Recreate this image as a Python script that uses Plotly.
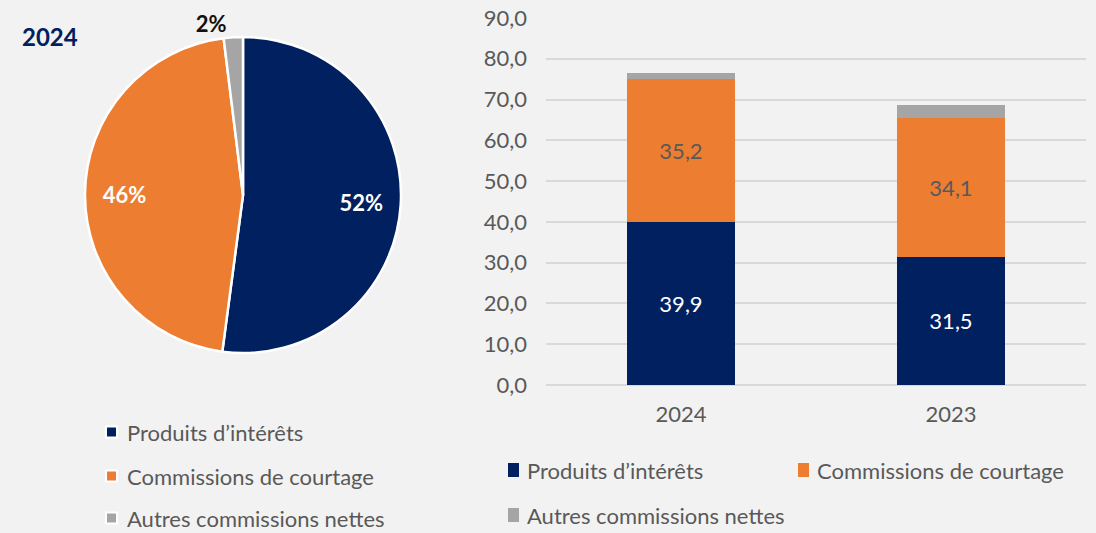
import plotly.graph_objects as go

# ---------------- data ----------------
categories = ["Produits d’intérêts", "Commissions de courtage", "Autres commissions nettes"]
years = ["2024", "2023"]
produits = [39.9, 31.5]
commissions = [35.2, 34.1]
autres = [1.5, 3.0]
pie_year = "2024"
pie_values = [produits[0], commissions[0], autres[0]]
y_ticks = [0, 10, 20, 30, 40, 50, 60, 70, 80, 90]

# ---------------- style ----------------
colors = ["#002060", "#ED7D31", "#A5A5A5"]
FONT = "Lato"
GREY_TXT = "#595959"
BG = "#F2F2F2"
W, H = 1096, 533
FS = 22


def px(x):
    return x / W


def py(y):
    return 1 - y / H


fig = go.Figure()

pie_dom = dict(x=[px(85), px(401)], y=[py(353), py(37)])

# Pie (visual)
fig.add_trace(go.Pie(
    labels=categories, values=pie_values, sort=False, direction="clockwise", rotation=0,
    marker=dict(colors=colors, line=dict(color="white", width=2.5)),
    texttemplate="%{percent:.0%}",
    textposition=["none", "none", "outside"],
    outsidetextfont=dict(color="#111111", size=FS, family=FONT, weight="bold"),
    domain=pie_dom, automargin=False,
    showlegend=False, hoverinfo="skip",
))
# Pie labels for the large slices (transparent ring so labels sit out toward the rim)
fig.add_trace(go.Pie(
    labels=categories, values=pie_values, sort=False, direction="clockwise", rotation=0,
    hole=0.5,
    marker=dict(colors=["rgba(0,0,0,0)"] * 3, line=dict(width=0)),
    texttemplate="%{percent:.0%}",
    textposition=["inside", "inside", "outside"],
    insidetextorientation="horizontal",
    insidetextfont=dict(color="white", size=FS, family=FONT, weight="bold"),
    outsidetextfont=dict(color="rgba(0,0,0,0)", size=FS, family=FONT, weight="bold"),
    domain=pie_dom, automargin=False,
    showlegend=False, hoverinfo="skip",
))

# Stacked bars
series = [produits, commissions, autres]
txt_colors = ["white", GREY_TXT, GREY_TXT]
for i, (name, vals) in enumerate(zip(categories, series)):
    fig.add_trace(go.Bar(
        x=years, y=vals, name=name, width=0.4,
        marker=dict(color=colors[i], line=dict(width=0)),
        texttemplate="%{y:.1f}" if i < 2 else "",
        textposition="inside", insidetextanchor="middle",
        textfont=dict(color=txt_colors[i], size=FS, family=FONT),
        showlegend=False, hoverinfo="skip",
    ))

fig.update_layout(
    width=W, height=H, autosize=False, barmode="stack", separators=", ",
    paper_bgcolor=BG, plot_bgcolor=BG,
    margin=dict(l=0, r=0, t=0, b=0, pad=0),
    font=dict(family=FONT, color=GREY_TXT, size=FS),
    xaxis=dict(domain=[px(546), px(1086)], showgrid=False, showline=False, zeroline=False,
               automargin=False, ticks="", ticklabelstandoff=14,
               tickfont=dict(size=FS, color=GREY_TXT)),
    yaxis=dict(domain=[py(385), py(18)], range=[0, 90], tickvals=y_ticks, tickformat=".1f",
               automargin=False,
               showgrid=True, gridcolor="#D9D9D9", gridwidth=1.5, zeroline=True,
               zerolinecolor="#D9D9D9", zerolinewidth=1.5, showline=False, ticks="",
               ticklabelstandoff=18, tickfont=dict(size=FS, color=GREY_TXT)),
)

annotations = [dict(text=pie_year, x=px(20), y=py(36), xref="paper", yref="paper",
                    xanchor="left", yanchor="middle", showarrow=False,
                    font=dict(size=24, color="#002060", family=FONT, weight="bold"))]
shapes = []

# pie legend (vertical)
pie_leg_y = [432, 476, 518]
for i, name in enumerate(categories):
    yc = pie_leg_y[i]
    shapes.append(dict(type="rect", xref="paper", yref="paper",
                       x0=px(106), x1=px(117), y0=py(yc + 5.5), y1=py(yc - 5.5),
                       fillcolor=colors[i], line=dict(color="white", width=2)))
    annotations.append(dict(text=name, x=px(125), y=py(yc), xref="paper", yref="paper",
                            xanchor="left", yanchor="middle", showarrow=False,
                            font=dict(size=FS, color=GREY_TXT, family=FONT)))

# bar legend (two columns)
bar_leg_pos = [(508, 470), (798, 470), (508, 515)]
for i, name in enumerate(categories):
    xl, yc = bar_leg_pos[i]
    shapes.append(dict(type="rect", xref="paper", yref="paper",
                       x0=px(xl), x1=px(xl + 11), y0=py(yc + 7), y1=py(yc - 7),
                       fillcolor=colors[i], line=dict(width=0)))
    annotations.append(dict(text=name, x=px(xl + 17), y=py(yc), xref="paper", yref="paper",
                            xanchor="left", yanchor="middle", showarrow=False,
                            font=dict(size=FS, color=GREY_TXT, family=FONT)))

fig.update_layout(annotations=annotations, shapes=shapes)
fig.write_html(
    "out.html",
    config={"responsive": False, "displayModeBar": False},
    post_script="document.body.style.margin='0';document.body.style.overflow='hidden';",
)
